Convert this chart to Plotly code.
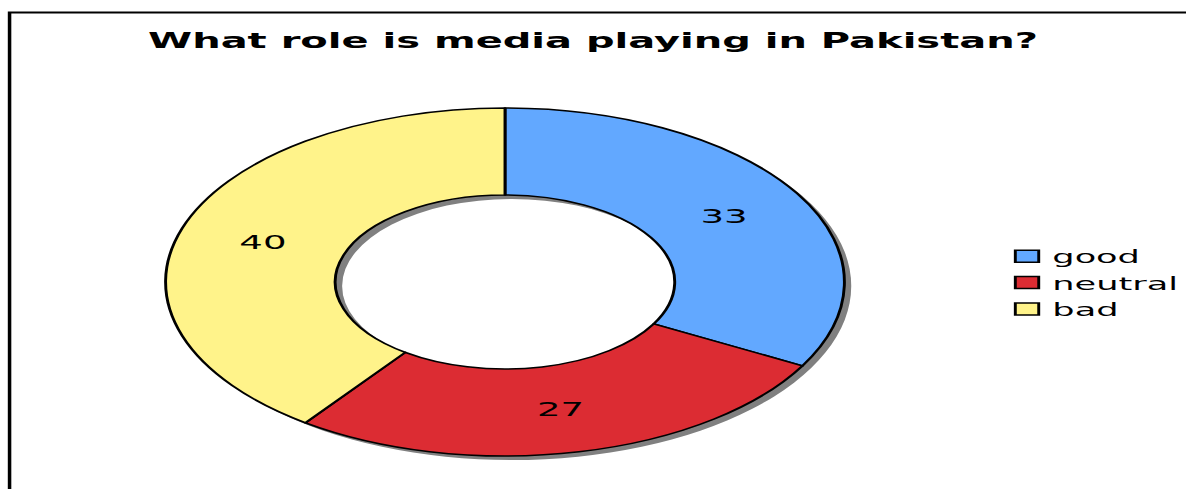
import plotly.graph_objects as go

# ---- data ----
title_text = "What role is media playing in Pakistan?"
categories = ["good", "neutral", "bad"]
values = [33, 27, 40]
colors = ["#62A8FF", "#DC2C33", "#FFF38A"]

# ---- geometry (figure is drawn narrow, then stretched horizontally like the reference) ----
W_OUT, H = 1186, 489
W_IN = 608
SX = W_OUT / W_IN

cx_px, cy_px, r_px = 505 / SX, 282, 174
dom_x = [(cx_px - r_px) / W_IN, (cx_px + r_px) / W_IN]
dom_y = [1 - (cy_px + r_px) / H, 1 - (cy_px - r_px) / H]
shx, shy = 3.5 / W_IN, 4 / H

fig = go.Figure()

# drop shadow of the ring
fig.add_trace(go.Pie(
    values=[sum(values)], labels=[" "], hole=0.5, sort=False,
    marker=dict(colors=["#808080"], line=dict(width=0)),
    textinfo="none", hoverinfo="skip", showlegend=False,
    domain=dict(x=[dom_x[0] + shx, dom_x[1] + shx], y=[dom_y[0] - shy, dom_y[1] - shy]),
))

fig.add_trace(go.Pie(
    labels=categories, values=values, hole=0.5, sort=False,
    direction="clockwise", rotation=0,
    marker=dict(colors=colors, line=dict(color="black", width=1.5)),
    textinfo="value", textposition="inside", insidetextorientation="horizontal",
    textfont=dict(family="DejaVu Sans", size=19, color="black"),
    hoverinfo="skip",
    domain=dict(x=dom_x, y=dom_y),
))

fig.update_layout(
    width=W_IN, height=H,
    margin=dict(l=0, r=0, t=0, b=0, autoexpand=False),
    paper_bgcolor="white", plot_bgcolor="white",
    title=dict(text=title_text, x=0.5, xanchor="center", y=1 - 41 / H, yanchor="middle",
               font=dict(family="DejaVu Sans", size=20.5, color="black", weight="bold")),
    legend=dict(x=506.5 / W_IN, xanchor="left", y=1 - 238 / H, yanchor="top",
                font=dict(family="DejaVu Sans", size=18, color="black"),
                bgcolor="rgba(0,0,0,0)"),
    shapes=[dict(type="rect", xref="paper", yref="paper",
                 x0=4.9 / W_IN, x1=1.2, y0=-0.2, y1=1 - 12.5 / H,
                 line=dict(color="black", width=1.8), layer="above")],
)

post = """
var gd = document.getElementById('{plot_id}');
document.documentElement.style.overflow = 'hidden';
document.body.style.overflow = 'hidden';
document.body.style.margin = '0';
gd.style.transformOrigin = '0 0';
gd.style.transform = 'scaleX(%f)';
gd.querySelectorAll('.legendtext').forEach(function(t){
  var x = parseFloat(t.getAttribute('x'));
  t.setAttribute('x', x - 7);
});
""" % SX

fig.write_html("out.html", post_script=post, config=dict(staticPlot=True, displayModeBar=False))
